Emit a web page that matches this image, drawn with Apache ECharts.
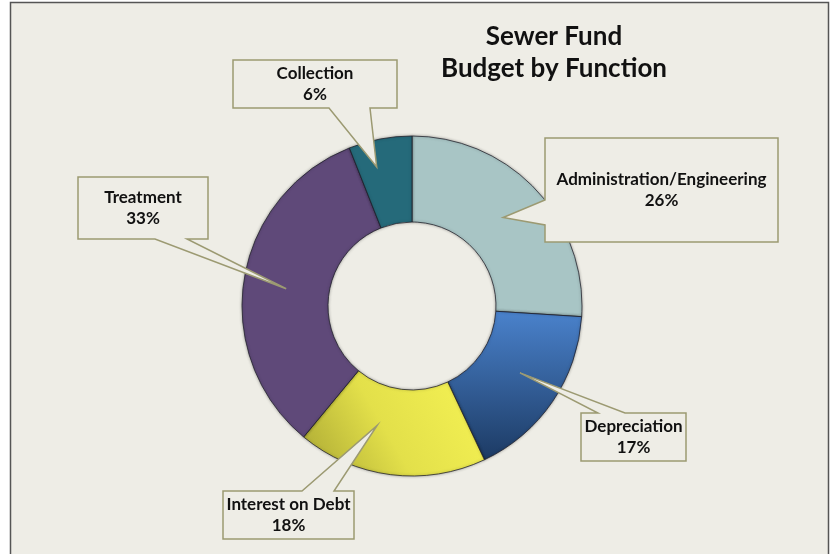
<!DOCTYPE html>
<html>
<head>
<meta charset="utf-8">
<style>
  html, body { margin: 0; padding: 0; background: #ffffff; }
  #chart { width: 836px; height: 554px; }
</style>
<script src="https://cdn.jsdelivr.net/npm/echarts@6/dist/echarts.min.js"></script>
</head>
<body>
<div id="chart"></div>
<script>
// Budget shares by function (percent), clockwise from 12 o'clock
const categories = ['Administration/Engineering', 'Depreciation', 'Interest on Debt', 'Treatment', 'Collection'];
const shares = [26, 17, 18, 33, 6];
const titleLines = ['Sewer Fund', 'Budget by Function'];

const FONT = 'Lato, "Open Sans", sans-serif';
const BG = '#EEEDE6';
const CALLOUT_STROKE = '#9C9A72';

const sliceColors = [
  '#A8C5C5',
  new echarts.graphic.LinearGradient(0, 0, 0, 1, [
    { offset: 0, color: '#4A82CC' },
    { offset: 1, color: '#1C3A63' }
  ]),
  new echarts.graphic.LinearGradient(1, 0, 0, 1, [
    { offset: 0, color: '#F7F455' },
    { offset: 0.55, color: '#E3E04A' },
    { offset: 1, color: '#A9A633' }
  ]),
  '#5F4979',
  '#256A7A'
];

// Callout boxes: rectangle, side the pointer leaves from, and the base of the pointer on that side
const callouts = [
  { box: [545, 138, 778, 242], side: 'left',   base: [200, 225] },
  { box: [581, 413, 686, 461], side: 'top',    base: [598, 625] },
  { box: [223, 491, 354, 539], side: 'top',    base: [302, 334] },
  { box: [78, 177, 208, 239],  side: 'bottom', base: [155, 187] },
  { box: [233, 60, 397, 108],  side: 'bottom', base: [329, 370] }
];
// Where each pointer tip sits inside its slice:
// along the sweep (0 = slice start, 1 = slice end) and across the ring (0 = inner, 1 = outer)
const tipAlong = [0.49, 0.46, 0.64, 0.49, 0.34];
const tipDepth = [0.5, 0.5, 0.47, 0.5, 0.69];

const chart = echarts.init(document.getElementById('chart'), null, { renderer: 'canvas' });

const option = {
  animation: false,
  backgroundColor: '#ffffff',
  title: {
    text: titleLines.join('\n'),
    left: 549,
    top: 16,
    textAlign: 'center',
    textStyle: {
      fontFamily: FONT,
      fontWeight: 'bold',
      fontSize: 26,
      lineHeight: 32,
      color: '#111111'
    }
  },
  graphic: [{
    type: 'rect',
    z: -10,
    silent: true,
    shape: { x: 10.5, y: 2.5, width: 818, height: 600 },
    style: { fill: BG, stroke: '#555555', lineWidth: 1.5 }
  }],
  series: [{
    type: 'pie',
    center: [412, 306],
    radius: [84, 170],
    startAngle: 90,
    clockwise: true,
    avoidLabelOverlap: false,
    label: { show: false },
    labelLine: { show: false },
    emphasis: { disabled: true },
    itemStyle: {
      borderColor: 'rgba(30,30,40,0.75)',
      borderWidth: 1,
      shadowBlur: 3,
      shadowColor: 'rgba(0,0,0,0.35)'
    },
    data: categories.map((name, i) => ({
      name: name,
      value: shares[i],
      itemStyle: { color: sliceColors[i] }
    }))
  }]
};

chart.setOption(option);

// Build each callout as one outline: the box with a pointer reaching into its slice
function calloutPoints(c, tip) {
  const [x0, y0, x1, y1] = c.box;
  const [b1, b2] = c.base;
  if (c.side === 'top') {
    return [[x0, y0], [b1, y0], tip, [b2, y0], [x1, y0], [x1, y1], [x0, y1]];
  }
  if (c.side === 'bottom') {
    return [[x0, y0], [x1, y0], [x1, y1], [b2, y1], tip, [b1, y1], [x0, y1]];
  }
  // left
  return [[x0, y0], [x1, y0], [x1, y1], [x0, y1], [x0, b2], tip, [x0, b1]];
}

const pieData = chart.getModel().getSeriesByIndex(0).getData();
const total = shares.reduce((a, b) => a + b, 0);
const extra = [];
categories.forEach((name, i) => {
  const lay = pieData.getItemLayout(i);
  const ang = lay.startAngle + (lay.endAngle - lay.startAngle) * tipAlong[i];
  const rr = lay.r0 + (lay.r - lay.r0) * tipDepth[i];
  const tip = [lay.cx + rr * Math.cos(ang), lay.cy + rr * Math.sin(ang)];
  const c = callouts[i];
  extra.push({
    type: 'polygon',
    z: 20,
    silent: true,
    shape: { points: calloutPoints(c, tip) },
    style: { fill: BG, stroke: CALLOUT_STROKE, lineWidth: 1.5 }
  });
  extra.push({
    type: 'text',
    z: 21,
    silent: true,
    x: (c.box[0] + c.box[2]) / 2,
    y: (c.box[1] + c.box[3]) / 2,
    style: {
      text: name + '\n' + Math.round(shares[i] / total * 100) + '%',
      font: 'bold 17px ' + FONT,
      fill: '#111111',
      align: 'center',
      verticalAlign: 'middle',
      lineHeight: 21
    }
  });
});

chart.setOption({ graphic: option.graphic.concat(extra) }, { replaceMerge: ['graphic'] });
</script>
</body>
</html>
